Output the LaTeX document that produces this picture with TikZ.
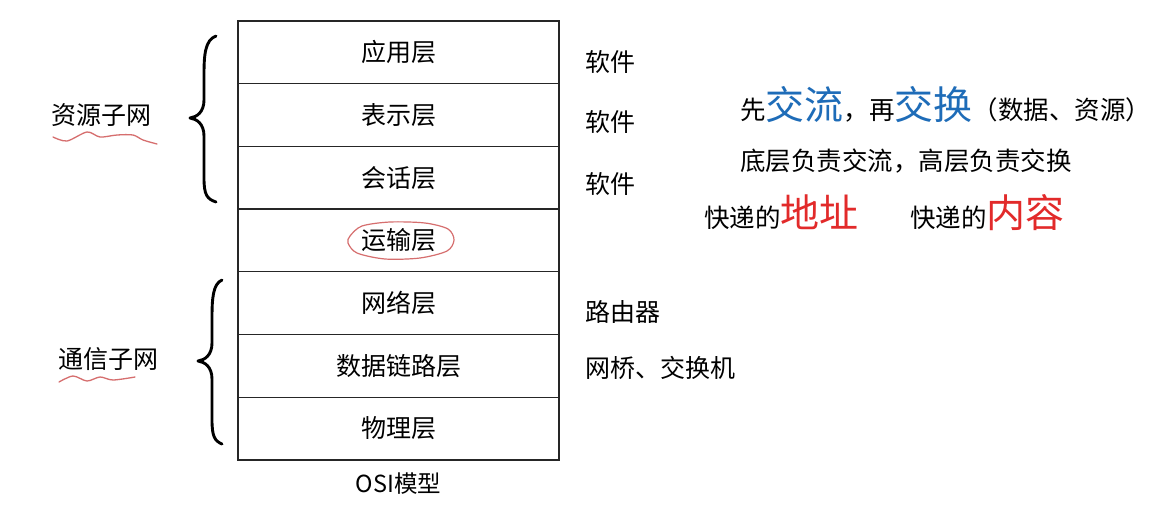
\documentclass[tikz,border=0pt]{standalone}
\usepackage{fontspec}
\setmainfont{Noto Sans CJK SC}
\newfontfamily\tcf{Noto Sans CJK TC}
\definecolor{cblue}{RGB}{30,108,184}
\definecolor{cred}{RGB}{226,42,42}
\definecolor{pen}{RGB}{214,110,110}
\newcommand{\fsz}[1]{\fontsize{#1}{#1}\selectfont}
\begin{document}
\begin{tikzpicture}[x=1pt,y=-1pt,
 layer/.style={draw=black!85,line width=1.3pt,minimum width=321pt,minimum height=62.7pt,inner sep=0pt,font=\fsz{25}},
 lab/.style={anchor=west,inner sep=0pt,font=\fsz{25}},
 side/.style={inner sep=0pt,font=\fsz{25}},
 brace/.style={line width=2.9pt,line cap=round,line join=round},
 wave/.style={draw=pen,line width=1.3pt,line cap=round},
 txt/.style={anchor=base west,inner sep=0pt,font=\fsz{25.5}}]
\useasboundingbox[fill=white] (0,0) rectangle (1153,509);

% OSI layers
\node[layer] (l1) at (398.5,52.35) {应用层};
\node[layer] (l2) at (398.5,115.05) {表示层};
\node[layer] (l3) at (398.5,177.75) {会话层};
\node[layer] (l4) at (398.5,240.45) {运输层};
\node[layer] (l5) at (398.5,303.15) {网络层};
\node[layer] (l6) at (398.5,365.85) {数据链路层};
\node[layer] (l7) at (398.5,428.55) {物理层};
\node[inner sep=0pt,font=\fsz{23.5}] (osi) at (398.5,484) {OSI模型};

% red hand-drawn ellipse
\draw[pen,line width=1.2pt] plot[smooth cycle] coordinates {(350,236) (362,226) (390,222) (425,223) (448,229) (454,240) (447,251) (420,258) (385,259) (357,253) (348,243)};

% right labels
\node[lab] (s1) at (585,62) {软件};
\node[lab] (s2) at (585,122) {软件};
\node[lab] (s3) at (585,184) {软件};
\node[lab] (s5) at (585,312) {路由器};
\node[lab] (s6) at (585,368) {网桥、交换机};

% left labels
\node[side] (rs) at (101,115) {资源子网};
\node[side] (tx) at (108,359) {通信子网};
\draw[wave] plot[smooth] coordinates {(53,137) (67,141) (87,132) (100,137) (117,135) (133,135) (143,140) (157,144)};
\draw[wave] plot[smooth] coordinates {(59,382) (73,376) (87,381) (100,377) (113,380) (135,377)};

% braces
\draw[brace] (216,36) .. controls (205,40) and (204,55) .. (204,75) -- (204,100)
  .. controls (204,112) and (197,117) .. (190,118)
  .. controls (197,119) and (204,124) .. (204,136) -- (204,178)
  .. controls (204,195) and (207,199) .. (216,202);
\draw[brace] (222,280) .. controls (213,284) and (212,298) .. (212,318) -- (212,343)
  .. controls (212,355) and (205,360) .. (198,361)
  .. controls (205,362) and (212,367) .. (212,379) -- (212,420)
  .. controls (212,437) and (215,441) .. (222,444);

% right notes
\node[txt] (t1) at (740,119) {先{\fsz{39}\color{cblue}交流}，再{\fsz{39}\color{cblue}交换}{\tcf（}数据、资源{\tcf）}};
\node[txt] (t2) at (740,170) {底层负责交流，高层负责交换};
\node[txt] (t3a) at (704,227) {快递的{\fsz{39}\color{cred}地址}};
\node[txt] (t3b) at (910,227) {快递的{\fsz{39}\color{cred}内容}};
\end{tikzpicture}
\end{document}
